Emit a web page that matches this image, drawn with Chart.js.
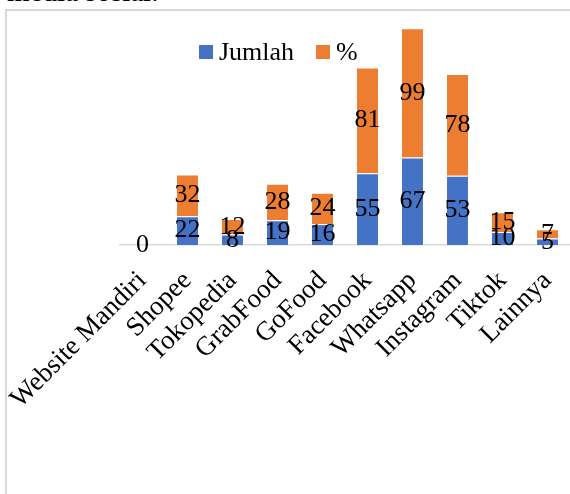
<!DOCTYPE html>
<html>
<head>
<meta charset="utf-8">
<script src="https://cdn.jsdelivr.net/npm/chart.js@4.4.1/dist/chart.umd.min.js"></script>
<style>
    body { margin: 0; background: #fff; overflow: hidden; }
    #page { position: relative; width: 570px; height: 494px; overflow: hidden; font-family: "Liberation Serif", "Times New Roman", serif; }
    #doc-text { position: absolute; left: 7px; top: -23px; font-size: 29px; line-height: 29px; color: #000; white-space: nowrap; }
    #frame { position: absolute; left: 5px; top: 9px; width: 640px; height: 600px; border: 2px solid #d9d9d9; }
    #chart-box { position: absolute; left: 0; top: 0; width: 570px; height: 494px; }
    #legend { position: absolute; left: 199px; top: 37px; display: flex; align-items: center; font-size: 26px; color: #000; }
    #legend .item { display: flex; align-items: center; margin-right: 22px; }
    #legend .swatch { width: 14px; height: 14px; margin-right: 6px; }
</style>
</head>
<body>
<div id="page">
    <div id="doc-text">media sosial.</div>
    <div id="frame"></div>
    <div id="chart-box"><canvas id="mediaChart" width="570" height="494"></canvas></div>
    <div id="legend"></div>
</div>
<script>
// data
const categories = ['Website Mandiri', 'Shopee', 'Tokopedia', 'GrabFood', 'GoFood', 'Facebook', 'Whatsapp', 'Instagram', 'Tiktok', 'Lainnya'];
const jumlah = [0, 22, 8, 19, 16, 55, 67, 53, 10, 5];
const persen = [0, 32, 12, 28, 24, 81, 99, 78, 15, 7];
const seriesNames = ['Jumlah', '%'];
const seriesColors = ['#4472C4', '#ED7D31'];

const serif = '"Liberation Serif", "Times New Roman", serif';

// draws the value in the middle of each bar segment
const segmentLabels = {
    id: 'segmentLabels',
    afterDatasetsDraw(chart) {
        const ctx = chart.ctx;
        ctx.save();
        ctx.font = `26px ${serif}`;
        ctx.fillStyle = '#000';
        ctx.textAlign = 'center';
        ctx.textBaseline = 'middle';
        chart.data.datasets.forEach((ds, i) => {
            const meta = chart.getDatasetMeta(i);
            meta.data.forEach((bar, j) => {
                const v = ds.data[j];
                if (v === 0 && i > 0) return; // both zero -> one label is enough
                ctx.fillText(v, bar.x, (bar.y + bar.base) / 2);
            });
        });
        ctx.restore();
    }
};

const chart = new Chart(document.getElementById('mediaChart'), {
    type: 'bar',
    data: {
        labels: categories,
        datasets: [
            { label: seriesNames[0], data: jumlah, backgroundColor: seriesColors[0], borderColor: 'rgba(255,255,255,0.45)', borderWidth: 1 },
            { label: seriesNames[1], data: persen, backgroundColor: seriesColors[1], borderColor: 'rgba(255,255,255,0.45)', borderWidth: 1 }
        ]
    },
    options: {
        responsive: false,
        animation: false,
        layout: { padding: { left: 120, top: 10, right: 0, bottom: 0 } },
        datasets: { bar: { categoryPercentage: 1, barPercentage: 0.51 } },
        plugins: {
            legend: { display: false },
            tooltip: { enabled: false }
        },
        scales: {
            x: {
                stacked: true,
                grid: { display: false, drawTicks: false },
                border: { display: true, color: '#d9d9d9', width: 1.5 },
                ticks: {
                    color: '#000',
                    font: { family: serif, size: 27 },
                    autoSkip: false,
                    minRotation: 45,
                    maxRotation: 45,
                    padding: 20
                },
                afterFit(scale) {
                    scale.paddingLeft = 0;
                    scale.paddingRight = 0;
                    scale.height = 249;
                }
            },
            y: {
                stacked: true,
                display: false,
                min: 0,
                max: 180
            }
        }
    },
    plugins: [segmentLabels]
});

// html legend from the datasets
const legendEl = document.getElementById('legend');
chart.data.datasets.forEach(ds => {
    const item = document.createElement('div');
    item.className = 'item';
    item.innerHTML = `<span class="swatch" style="background:${ds.backgroundColor}"></span><span>${ds.label}</span>`;
    legendEl.appendChild(item);
});
</script>
</body>
</html>
